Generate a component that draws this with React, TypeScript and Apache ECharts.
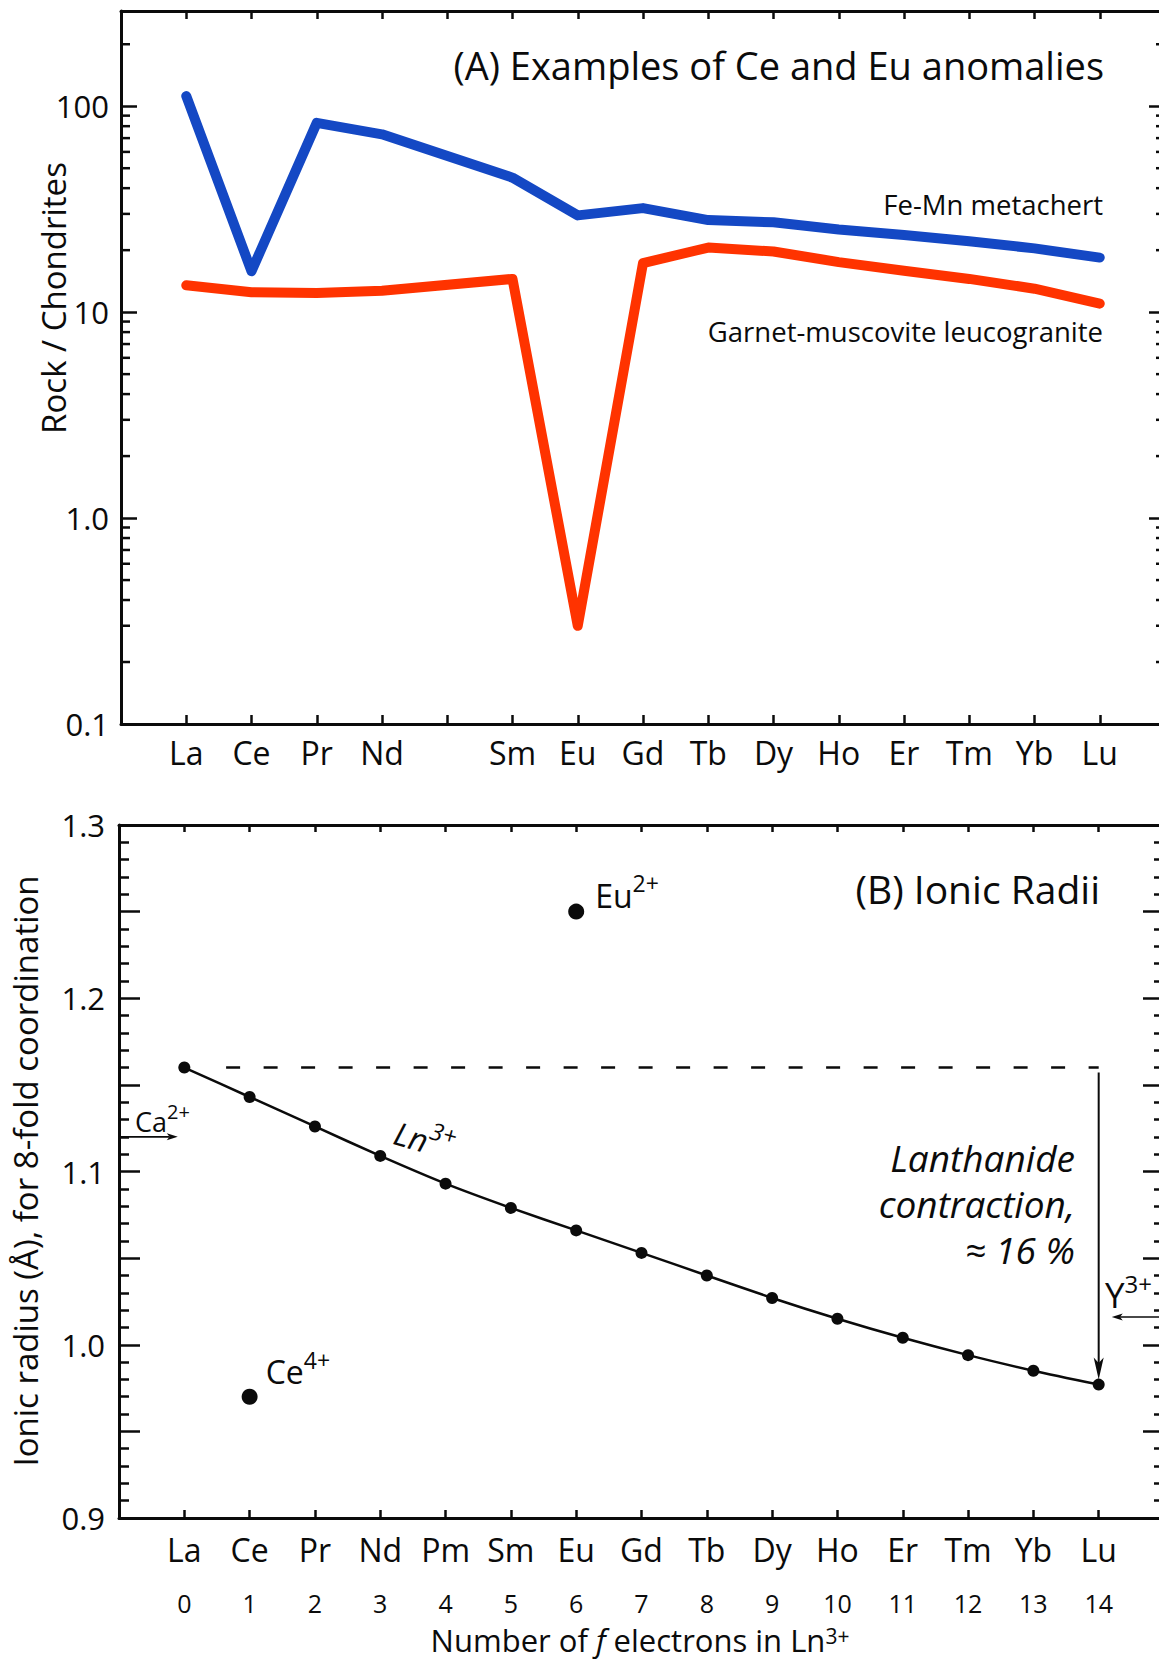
import React, { useEffect, useRef } from 'react';
import * as echarts from 'echarts';

const FONT = '"Open Sans", "Noto Sans", "DejaVu Sans", sans-serif';
const INK = '#0b0b0b';
const BLUE = '#1448c4';
const RED = '#ff3300';

// ---------- Panel A data ----------
const elementsA = ['La', 'Ce', 'Pr', 'Nd', '', 'Sm', 'Eu', 'Gd', 'Tb', 'Dy', 'Ho', 'Er', 'Tm', 'Yb', 'Lu'];
const feMnMetachert: (number | null)[] = [112, 15.8, 83, 73, null, 45, 29.5, 32, 28, 27.3, 25.2, 23.7, 22.1, 20.4, 18.4];
const leucogranite: (number | null)[] = [13.5, 12.5, 12.4, 12.7, null, 14.5, 0.3, 17.3, 20.6, 19.7, 17.5, 15.9, 14.5, 13.0, 11.0];
const logMinorTicks = [0.2, 0.3, 0.4, 0.5, 0.6, 0.7, 0.8, 0.9, 2, 3, 4, 5, 6, 7, 8, 9, 20, 30, 40, 50, 60, 70, 80, 90, 200];

// ---------- Panel B data ----------
const elementsB = ['La', 'Ce', 'Pr', 'Nd', 'Pm', 'Sm', 'Eu', 'Gd', 'Tb', 'Dy', 'Ho', 'Er', 'Tm', 'Yb', 'Lu'];
const fElectrons = [0, 1, 2, 3, 4, 5, 6, 7, 8, 9, 10, 11, 12, 13, 14];
const ln3Radius = [1.16, 1.143, 1.126, 1.109, 1.093, 1.079, 1.066, 1.053, 1.04, 1.027, 1.015, 1.004, 0.994, 0.985, 0.977];
const eu2Point = [6, 1.25];
const ce4Point = [1, 0.97];
const ca2Arrow = [[-1, 1.12], [-0.1, 1.12]];
const y3Arrow = [[15, 1.016], [14.2, 1.016]];
const laLevel = [[0.64, 1.16], [14, 1.16]];
const contractionArrow = [[14, 1.16], [14, 0.98]];

const GRID_A = { left: 121, top: 11, width: 1044, height: 713 };
const GRID_B = { left: 119, top: 825, width: 1045, height: 693 };

const tickLine = { color: INK, width: 2.5 };
const axisLine = { show: true, onZero: false, lineStyle: { color: INK, width: 3 } };

function xAxis(gridIndex: number, position: string, tickLen: number, axisLabel?: any, showLine = true) {
  return {
    type: 'value', gridIndex, position, min: -1, max: 15, interval: 1,
    axisLine: showLine ? axisLine : { show: false },
    axisTick: tickLen > 0 ? { show: true, inside: true, length: tickLen, lineStyle: tickLine } : { show: false },
    axisLabel: axisLabel || { show: false }, splitLine: { show: false },
  };
}

const logLabel = (v: number) => {
  const l = Math.log10(v);
  if (Math.abs(l - Math.round(l)) > 1e-6) return '';
  if (v < 0.5) return '0.1';
  if (v < 5) return '1.0';
  return String(Math.round(v));
};

function yAxisA(position: string, labels: boolean) {
  return {
    type: 'log', logBase: 10, gridIndex: 0, position, min: 0.1, max: 290,
    axisLine, axisTick: { show: true, inside: true, length: 16, lineStyle: tickLine },
    splitLine: { show: false },
    axisLabel: labels
      ? { show: true, margin: 12, fontSize: 31, fontFamily: FONT, color: INK, formatter: logLabel, showMaxLabel: false }
      : { show: false },
  };
}

function yAxisB(position: string, labels: boolean) {
  return {
    type: 'value', gridIndex: 1, position, min: 0.9, max: 1.3, interval: 0.05,
    axisLine, axisTick: { show: true, inside: true, length: 21, lineStyle: tickLine },
    minorTick: { show: true, splitNumber: 5, length: 10, lineStyle: tickLine },
    splitLine: { show: false }, minorSplitLine: { show: false },
    axisLabel: labels
      ? {
          show: true, margin: 14, fontSize: 31, fontFamily: FONT, color: INK,
          formatter: (v: number) => (Math.abs(v * 10 - Math.round(v * 10)) < 1e-6 ? v.toFixed(1) : ''),
        }
      : { show: false },
  };
}

const pairs = (arr: (number | null)[]) =>
  arr.map((v, i) => (v == null ? null : [i, v])).filter((p) => p !== null) as number[][];

function buildOption(): any {
  return {
    animation: false,
    backgroundColor: '#ffffff',
    grid: [GRID_A, GRID_B],
    xAxis: [
      xAxis(0, 'bottom', 9, {
        show: true, margin: 12, fontSize: 32, lineHeight: 32, fontFamily: FONT, color: INK,
        formatter: (v: number) => elementsA[Math.round(v)] ?? '',
      }),
      xAxis(0, 'top', 8),
      xAxis(1, 'bottom', 8, {
        show: true, margin: 15, fontSize: 32, lineHeight: 32, fontFamily: FONT, color: INK,
        formatter: (v: number) => elementsB[Math.round(v)] ?? '',
      }),
      xAxis(1, 'top', 7),
      xAxis(
        1, 'bottom', 0,
        {
          show: true, margin: 72, fontSize: 25, lineHeight: 25, fontFamily: FONT, color: INK,
          formatter: (v: number) => {
            const i = Math.round(v);
            return i >= 0 && i < fElectrons.length ? String(fElectrons[i]) : '';
          },
        },
        false,
      ),
    ],
    yAxis: [yAxisA('left', true), yAxisA('right', false), yAxisB('left', true), yAxisB('right', false)],
    series: [
      {
        type: 'custom', name: 'log minor ticks', xAxisIndex: 0, yAxisIndex: 0, silent: true, clip: false,
        data: logMinorTicks.map((v) => [-1, v]),
        renderItem: (_p: any, api: any) => {
          const v = api.value(1);
          const l = api.coord([-1, v]);
          const r = api.coord([15, v]);
          return {
            type: 'group',
            children: [
              { type: 'line', shape: { x1: l[0], y1: l[1], x2: l[0] + 9, y2: l[1] }, style: { stroke: INK, lineWidth: 2.5 } },
              { type: 'line', shape: { x1: r[0] - 9, y1: r[1], x2: r[0], y2: r[1] }, style: { stroke: INK, lineWidth: 2.5 } },
            ],
          };
        },
      },
      {
        type: 'line', name: 'Fe-Mn metachert', xAxisIndex: 0, yAxisIndex: 0, data: pairs(feMnMetachert),
        showSymbol: false, symbol: 'none', silent: true,
        lineStyle: { color: BLUE, width: 10, cap: 'round', join: 'round' },
      },
      {
        type: 'line', name: 'Garnet-muscovite leucogranite', xAxisIndex: 0, yAxisIndex: 0, data: pairs(leucogranite),
        showSymbol: false, symbol: 'none', silent: true,
        lineStyle: { color: RED, width: 10, cap: 'round', join: 'round' },
      },
      {
        type: 'line', name: 'La level', xAxisIndex: 2, yAxisIndex: 2, data: laLevel,
        showSymbol: false, symbol: 'none', silent: true,
        lineStyle: { color: INK, width: 2.5, type: [14, 23.5] },
      },
      {
        type: 'line', name: 'Ln3+', xAxisIndex: 2, yAxisIndex: 2, data: pairs(ln3Radius),
        smooth: 0.25, symbol: 'circle', symbolSize: 12, silent: true, z: 4,
        itemStyle: { color: INK, opacity: 1 }, lineStyle: { color: INK, width: 2.5 },
      },
      {
        type: 'scatter', name: 'Eu2+', xAxisIndex: 2, yAxisIndex: 2, data: [eu2Point],
        symbolSize: 16, itemStyle: { color: INK, opacity: 1 }, silent: true,
      },
      {
        type: 'scatter', name: 'Ce4+', xAxisIndex: 2, yAxisIndex: 2, data: [ce4Point],
        symbolSize: 16, itemStyle: { color: INK, opacity: 1 }, silent: true,
      },
    ],
  };
}

type ToPx = (axis: number, pt: number[]) => number[];

function supText(base: string, sup: string, size: number, supSize: number, raise: number, italic = false) {
  const fontStyle = italic ? 'italic' : 'normal';
  return {
    text: `{b|${base}}{s|${sup}}`,
    rich: {
      b: { fontFamily: FONT, fontSize: size, lineHeight: supSize + 2 * raise, fontStyle, fill: INK },
      s: { fontFamily: FONT, fontSize: supSize, lineHeight: supSize, verticalAlign: 'top', fontStyle, fill: INK },
    },
  };
}

function arrow(from: number[], to: number[], headW: number, headL: number, width: number) {
  const dx = to[0] - from[0];
  const dy = to[1] - from[1];
  const len = Math.hypot(dx, dy);
  const ux = dx / len;
  const uy = dy / len;
  const nx = -uy;
  const ny = ux;
  const base = [to[0] - ux * headL, to[1] - uy * headL];
  const notch = [to[0] - ux * headL * 0.75, to[1] - uy * headL * 0.75];
  return [
    {
      type: 'line', silent: true,
      shape: { x1: from[0], y1: from[1], x2: notch[0], y2: notch[1] },
      style: { stroke: INK, lineWidth: width },
    },
    {
      type: 'polygon', silent: true,
      shape: {
        points: [
          to,
          [base[0] + (nx * headW) / 2, base[1] + (ny * headW) / 2],
          notch,
          [base[0] - (nx * headW) / 2, base[1] - (ny * headW) / 2],
        ],
      },
      style: { fill: INK },
    },
  ];
}

function buildGraphics(toPx: ToPx): any[] {
  const g: any[] = [];
  const plain = (text: string, x: number, y: number, size: number, align: string) => ({
    type: 'text', x, y, silent: true,
    style: { text, fontFamily: FONT, fontSize: size, fill: INK, align, verticalAlign: 'middle' },
  });

  // Panel A texts
  g.push(plain('(A) Examples of Ce and Eu anomalies', 1104, 65, 38, 'right'));
  g.push(plain('Fe-Mn metachert', 1103, 204, 27.5, 'right'));
  g.push(plain('Garnet-muscovite leucogranite', 1103, 331, 27.5, 'right'));
  g.push({ ...plain('Rock / Chondrites', 53, 298, 33, 'center'), rotation: Math.PI / 2 });

  // Panel B texts
  g.push(plain('(B) Ionic Radii', 1100, 888, 39, 'right'));
  g.push({
    type: 'text', x: 1075, y: 1203, silent: true,
    style: {
      text: 'Lanthanide\ncontraction,\n\u2248 16 %', fontFamily: FONT, fontSize: 37, fontStyle: 'italic',
      lineHeight: 46, fill: INK, align: 'right', verticalAlign: 'middle',
    },
  });
  g.push({ ...plain('Ionic radius (\u00c5), for 8-fold coordination', 25, 1171, 33, 'center'), rotation: Math.PI / 2 });
  g.push({
    type: 'text', x: 640, y: 1640, silent: true,
    style: {
      text: '{a|Number of }{i|f}{a| electrons in Ln}{s|3+}', align: 'center', verticalAlign: 'middle',
      rich: {
        a: { fontFamily: FONT, fontSize: 31, lineHeight: 30, fill: INK },
        i: { fontFamily: FONT, fontSize: 31, lineHeight: 30, fontStyle: 'italic', fill: INK },
        s: { fontFamily: FONT, fontSize: 21, lineHeight: 14, verticalAlign: 'top', fill: INK },
      },
    },
  });

  // Point labels
  const eu = toPx(2, eu2Point);
  g.push({ type: 'text', x: eu[0] + 19, y: eu[1] - 16, silent: true, style: { ...supText('Eu', '2+', 32, 23, 13), align: 'left', verticalAlign: 'middle' } });
  const ce = toPx(2, ce4Point);
  g.push({ type: 'text', x: ce[0] + 16, y: ce[1] - 25, silent: true, style: { ...supText('Ce', '4+', 32, 23, 12), align: 'left', verticalAlign: 'middle' } });
  const nd = toPx(2, [3, ln3Radius[3]]);
  g.push({
    type: 'text', x: nd[0] + 44, y: nd[1] - 16, rotation: -0.27, silent: true,
    style: { ...supText('Ln', '3+', 32, 24, 12, true), align: 'center', verticalAlign: 'middle' },
  });

  // Arrows
  const ca0 = toPx(2, ca2Arrow[0]);
  const ca1 = toPx(2, ca2Arrow[1]);
  g.push(...arrow(ca0, ca1, 7, 11, 1.6));
  g.push({ type: 'text', x: ca0[0] + 16, y: ca0[1] - 15, silent: true, style: { ...supText('Ca', '2+', 27, 20, 10), align: 'left', verticalAlign: 'middle' } });

  const y0 = toPx(2, y3Arrow[0]);
  const y1 = toPx(2, y3Arrow[1]);
  g.push(...arrow(y0, y1, 7, 11, 1.6));
  g.push({ type: 'text', x: y0[0] - 59, y: y0[1] - 23, silent: true, style: { ...supText('Y', '3+', 35, 24, 11), align: 'left', verticalAlign: 'middle' } });

  const c0 = toPx(2, contractionArrow[0]);
  const c1 = toPx(2, contractionArrow[1]);
  g.push(...arrow([c0[0], c0[1] + 5], c1, 10, 22, 2));

  return g;
}

export default function App() {
  const ref = useRef<HTMLDivElement>(null);
  useEffect(() => {
    const el = ref.current;
    if (!el) return;
    const chart = echarts.init(el, null, { renderer: 'svg' });
    chart.setOption(buildOption());
    const toPx: ToPx = (axis, pt) =>
      chart.convertToPixel({ xAxisIndex: axis, yAxisIndex: axis } as any, pt) as unknown as number[];
    chart.setOption({ graphic: buildGraphics(toPx) });
    return () => chart.dispose();
  }, []);
  return (
    <div style={{ position: 'absolute', left: 0, top: 0, width: 1159, height: 1661, overflow: 'hidden', background: '#fff' }}>
      <div ref={ref} style={{ width: 1180, height: 1661 }} />
    </div>
  );
}
